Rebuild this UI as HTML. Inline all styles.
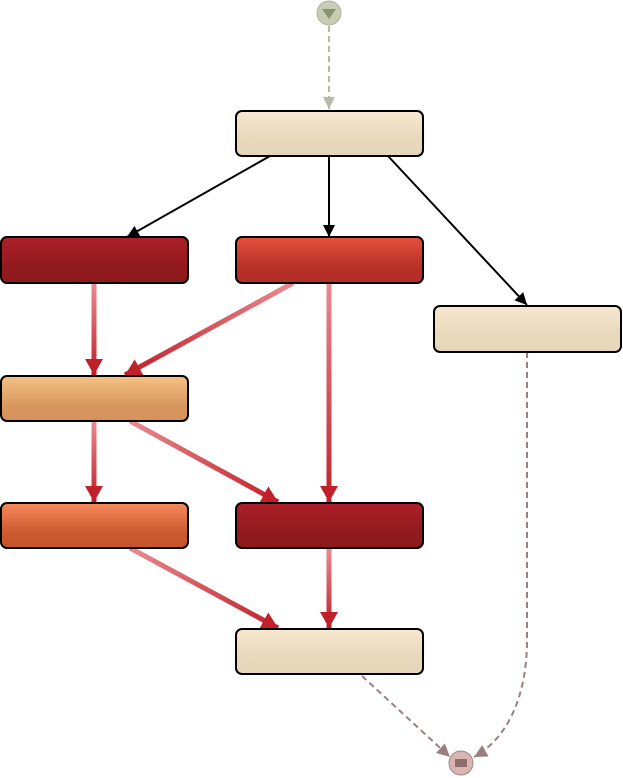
<!DOCTYPE html>
<html><head><style>html,body{margin:0;padding:0;background:#fff}svg{display:block}</style></head><body>
<svg width="623" height="778" viewBox="0 0 623 778" xmlns="http://www.w3.org/2000/svg">
<defs>
<linearGradient id="cream" x1="0" y1="0" x2="0" y2="1"><stop offset="0" stop-color="#f8e8d0"/><stop offset="0.6" stop-color="#e8d8bc"/><stop offset="1" stop-color="#e6d6ba"/></linearGradient>
<linearGradient id="dark" x1="0" y1="0" x2="0" y2="1"><stop offset="0" stop-color="#ad2028"/><stop offset="0.65" stop-color="#911a1e"/><stop offset="1" stop-color="#8e191d"/></linearGradient>
<linearGradient id="red" x1="0" y1="0" x2="0" y2="1"><stop offset="0" stop-color="#e6503e"/><stop offset="0.65" stop-color="#b83028"/><stop offset="1" stop-color="#b32e26"/></linearGradient>
<linearGradient id="tan" x1="0" y1="0" x2="0" y2="1"><stop offset="0" stop-color="#f5c284"/><stop offset="0.65" stop-color="#d9975e"/><stop offset="1" stop-color="#d5925a"/></linearGradient>
<linearGradient id="orng" x1="0" y1="0" x2="0" y2="1"><stop offset="0" stop-color="#f88a5c"/><stop offset="0.65" stop-color="#cc5a30"/><stop offset="1" stop-color="#c5542c"/></linearGradient>
<marker id="ah" viewBox="0 0 10 10" refX="10" refY="5" markerWidth="12" markerHeight="12" markerUnits="userSpaceOnUse" orient="auto"><path d="M0,0 L10,5 L0,10z" fill="#000"/></marker>
<marker id="rh" viewBox="0 0 10 10" refX="10" refY="5" markerWidth="16" markerHeight="18" markerUnits="userSpaceOnUse" orient="auto" preserveAspectRatio="none"><path d="M0,0 L10,5 L0,10z" fill="#c0202a"/></marker>
<marker id="gh" viewBox="0 0 10 10" refX="10" refY="5" markerWidth="12" markerHeight="12" markerUnits="userSpaceOnUse" orient="auto"><path d="M0,0 L10,5 L0,10z" fill="#b8b8a8"/></marker>
<marker id="mh" viewBox="0 0 10 10" refX="10" refY="5" markerWidth="13" markerHeight="13" markerUnits="userSpaceOnUse" orient="auto"><path d="M0,0 L10,5 L0,10z" fill="#9a8080"/></marker>
<linearGradient id="g1" gradientUnits="userSpaceOnUse" x1="94" y1="283" x2="94" y2="375"><stop offset="0" stop-color="#ea8a90"/><stop offset="1" stop-color="#c0202a"/></linearGradient>
<linearGradient id="g2" gradientUnits="userSpaceOnUse" x1="293" y1="283" x2="125" y2="375"><stop offset="0" stop-color="#ea8a90"/><stop offset="1" stop-color="#c0202a"/></linearGradient>
<linearGradient id="g3" gradientUnits="userSpaceOnUse" x1="329" y1="283" x2="329" y2="501"><stop offset="0" stop-color="#ea8a90"/><stop offset="1" stop-color="#c0202a"/></linearGradient>
<linearGradient id="g4" gradientUnits="userSpaceOnUse" x1="94" y1="421" x2="94" y2="501"><stop offset="0" stop-color="#ea8a90"/><stop offset="1" stop-color="#c0202a"/></linearGradient>
<linearGradient id="g5" gradientUnits="userSpaceOnUse" x1="130" y1="421" x2="278" y2="501"><stop offset="0" stop-color="#ea8a90"/><stop offset="1" stop-color="#c0202a"/></linearGradient>
<linearGradient id="g6" gradientUnits="userSpaceOnUse" x1="130" y1="548" x2="278" y2="628"><stop offset="0" stop-color="#ea8a90"/><stop offset="1" stop-color="#c0202a"/></linearGradient>
<linearGradient id="g7" gradientUnits="userSpaceOnUse" x1="329" y1="548" x2="329" y2="628"><stop offset="0" stop-color="#ea8a90"/><stop offset="1" stop-color="#c0202a"/></linearGradient>
</defs>
<!-- dashed -->
<line x1="329" y1="26" x2="329" y2="109" stroke="#b8b8a8" stroke-width="2" stroke-dasharray="6,4" marker-end="url(#gh)"/>
<line x1="362" y1="676" x2="450" y2="757" stroke="#9a8080" stroke-width="2" stroke-dasharray="6,4" marker-end="url(#mh)"/>
<path d="M527,352 L527,640 C527,700 505,740 474,757" fill="none" stroke="#9a8080" stroke-width="2" stroke-dasharray="6,4" marker-end="url(#mh)"/>
<!-- black -->
<line x1="270" y1="156" x2="127" y2="237" stroke="#000" stroke-width="2" marker-end="url(#ah)"/>
<line x1="329" y1="156" x2="329" y2="237" stroke="#000" stroke-width="2" marker-end="url(#ah)"/>
<line x1="388" y1="156" x2="527" y2="305" stroke="#000" stroke-width="2" marker-end="url(#ah)"/>
<!-- red -->
<g stroke-width="5" fill="none">
<line x1="94" y1="283" x2="94" y2="375" stroke="url(#g1)" marker-end="url(#rh)"/>
<line x1="293" y1="283" x2="125" y2="375" stroke="url(#g2)" marker-end="url(#rh)"/>
<line x1="329" y1="283" x2="329" y2="502" stroke="url(#g3)" marker-end="url(#rh)"/>
<line x1="94" y1="421" x2="94" y2="502" stroke="url(#g4)" marker-end="url(#rh)"/>
<line x1="130" y1="421" x2="278" y2="502" stroke="url(#g5)" marker-end="url(#rh)"/>
<line x1="130" y1="548" x2="278" y2="628" stroke="url(#g6)" marker-end="url(#rh)"/>
<line x1="329" y1="548" x2="329" y2="628" stroke="url(#g7)" marker-end="url(#rh)"/>
</g>
<!-- nodes -->
<g stroke="#000" stroke-width="2">
<rect x="236" y="111" width="187" height="45" rx="6" fill="url(#cream)"/>
<rect x="1" y="237" width="187" height="46" rx="6" fill="url(#dark)"/>
<rect x="236" y="237" width="187" height="46" rx="6" fill="url(#red)"/>
<rect x="434" y="306" width="187" height="46" rx="6" fill="url(#cream)"/>
<rect x="1" y="376" width="187" height="45" rx="6" fill="url(#tan)"/>
<rect x="1" y="503" width="187" height="45" rx="6" fill="url(#orng)"/>
<rect x="236" y="503" width="187" height="45" rx="6" fill="url(#dark)"/>
<rect x="236" y="629" width="187" height="45" rx="6" fill="url(#cream)"/>
</g>
<circle cx="329" cy="13" r="12" fill="#c8ccb4" stroke="#b0b4a0" stroke-width="1"/>
<path d="M322,9 L336,9 L329,19z" fill="#8a9470"/>
<circle cx="461" cy="763" r="12" fill="#dab4b0" stroke="#a08888" stroke-width="1"/>
<rect x="455" y="759" width="12" height="8" fill="#8c6c6c"/>
</svg>
</body></html>
